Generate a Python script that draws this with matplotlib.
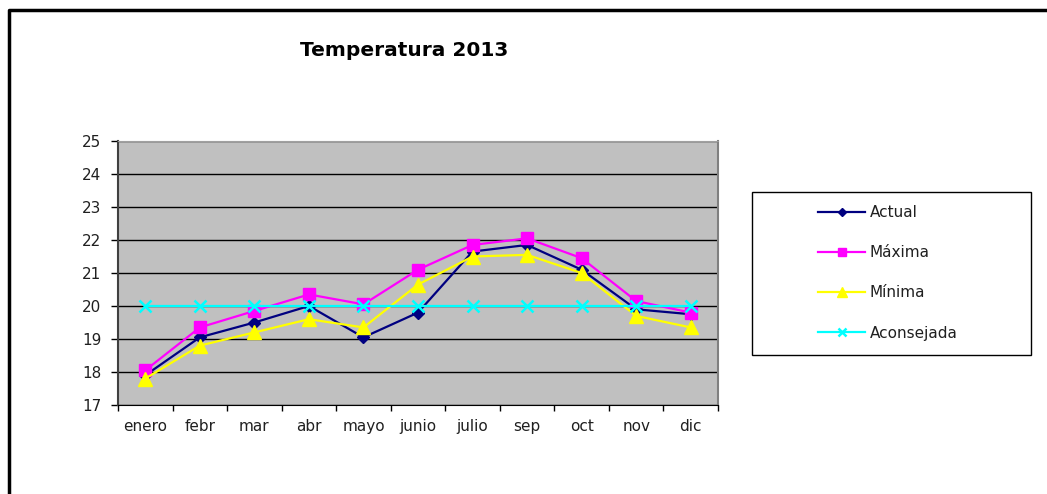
import matplotlib.pyplot as plt
from matplotlib.lines import Line2D
from matplotlib.patches import Rectangle

meses = ["enero", "febr", "mar", "abr", "mayo", "junio",
         "julio", "sep", "oct", "nov", "dic"]
actual = [17.9, 19.05, 19.5, 20.0, 19.05, 19.8, 21.65, 21.85, 21.1, 19.9, 19.75]
maxima = [18.05, 19.35, 19.85, 20.35, 20.05, 21.1, 21.85, 22.05, 21.45, 20.15, 19.8]
minima = [17.8, 18.8, 19.2, 19.6, 19.35, 20.65, 21.5, 21.55, 21.0, 19.7, 19.35]
aconsejada = [20, 20, 20, 20, 20, 20, 20, 20, 20, 20, 20]

plt.rcParams['font.family'] = ['DejaVu Sans']

fig = plt.figure(figsize=(10.47, 4.94), dpi=100)
ax = fig.add_axes([118 / 1047, 89 / 494, 600 / 1047, 264 / 494])
ax.set_facecolor('#c0c0c0')

x = range(len(meses))
ax.plot(x, actual, color='#000080', lw=1.6, marker='D', ms=6, label='Actual')
ax.plot(x, maxima, color='#ff00ff', lw=1.6, marker='s', ms=9, label='Máxima')
ax.plot(x, minima, color='#ffff00', lw=1.6, marker='^', ms=10, label='Mínima')
ax.plot(x, aconsejada, color='#00ffff', lw=1.6, marker='x', ms=8, mew=1.8,
        label='Aconsejada')

ax.set_xlim(-0.5, len(meses) - 0.5)
ax.set_ylim(17, 25)
ax.set_yticks(range(17, 26))
ax.set_xticks(list(x))
ax.set_xticklabels(meses)
ax.set_xticks([i - 0.5 for i in range(len(meses) + 1)], minor=True)
ax.tick_params(axis='x', which='major', length=0, pad=10, labelsize=11, colors='#202020')
ax.tick_params(axis='x', which='minor', length=4, direction='out', width=1)
ax.tick_params(axis='y', length=5, width=1, direction='out', pad=7, labelsize=11,
               colors='#202020')
ax.tick_params(axis='both', color='black')
ax.grid(axis='y', color='black', lw=1)
ax.set_axisbelow(True)

ax.spines['left'].set_color('#404040')
ax.spines['left'].set_linewidth(1.5)
ax.spines['bottom'].set_color('black')
ax.spines['right'].set_color('#808080')
ax.spines['right'].set_linewidth(1.5)
ax.spines['top'].set_color('#a0a0a0')

fig.text(404 / 1047, 1 - 50 / 494, "Temperatura 2013", fontsize=14.5,
         fontweight='bold', ha='center', va='center')

# caja de la leyenda
fig.patches.append(Rectangle((752 / 1047, 1 - 355 / 494), 279 / 1047, 163 / 494,
                             transform=fig.transFigure, fill=False,
                             edgecolor='black', lw=1))
leg = ax.legend(loc='upper left', bbox_to_anchor=(818 / 1047, 1 - 205 / 494),
                bbox_transform=fig.transFigure, frameon=False, fontsize=11,
                handlelength=3.1, handletextpad=0.3, labelspacing=1.65,
                borderpad=0, borderaxespad=0, markerscale=0.65)
for t in leg.get_texts():
    t.set_color('#202020')

# marco exterior
fig.add_artist(Line2D([9 / 1047, 9 / 1047, 1], [0, 1 - 10 / 494, 1 - 10 / 494],
                      transform=fig.transFigure, color='black', lw=2.5))

fig.savefig("out.png", dpi=100)
